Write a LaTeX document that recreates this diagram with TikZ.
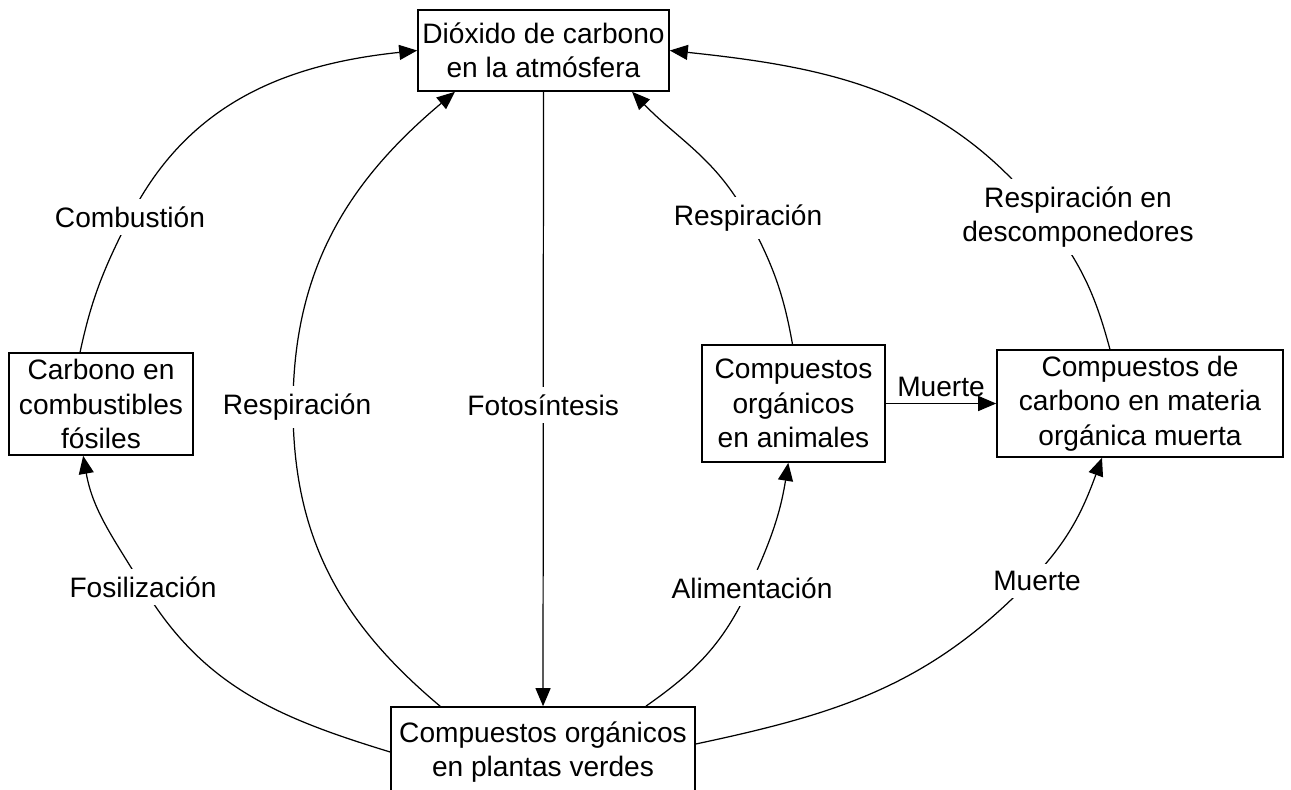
\documentclass[tikz,border=0pt]{standalone}
\usepackage{fontspec}
\setmainfont{Liberation Sans}
\usetikzlibrary{arrows.meta, positioning}

\begin{document}
\begin{tikzpicture}[x=0.2mm, y=0.2mm, line width=0.7pt,
        font=\fontsize{16}{19.5}\selectfont]
    % Block styles
    \tikzstyle{box} = [rectangle, draw, line width=0.9pt, align=center, inner sep=2pt]
    \tikzstyle{lbl} = [fill=white, inner sep=1.5mm, align=center]
    \tikzstyle{flow} = [-{Triangle[length=3.6mm, width=3mm]}]
    \clip (0,0) rectangle (1291,-789); % page size of the reference

    % Boxes
    \node[box, minimum width=50.2mm, minimum height=16.2mm] (atm) at (543.5,-50.5) {Dióxido de carbono\\en la atmósfera};
    \node[box, minimum width=60.8mm, minimum height=18mm] (plant) at (543,-752) {Compuestos orgánicos\\en plantas verdes};
    \node[box, minimum width=36.8mm, minimum height=20.4mm] (carb) at (101,-404) {Carbono en\\combustibles\\fósiles};
    \node[box, minimum width=36.6mm, minimum height=23.4mm] (anim) at (793.5,-403.5) {Compuestos\\orgánicos\\en animales};
    \node[box, minimum width=57.2mm, minimum height=21.4mm] (mat) at (1140,-403.5) {Compuestos de\\carbono en materia\\orgánica muerta};

    % Points where the arcs pass under their labels
    \coordinate (combC) at (130,-217);
    \coordinate (fosC) at (143,-587);
    \coordinate (respC) at (293,-407);
    \coordinate (aliC) at (749,-588);
    \coordinate (respaC) at (748,-218);
    \coordinate (descC) at (1045,-217);
    \coordinate (muerC) at (1030,-581);

    % Connections
    \draw[flow] (carb.112) to[out=78,in=-117] (combC) to[out=63,in=186] (atm.west);
    \draw[flow] (plant.west) to[out=163,in=-59] (fosC) to[out=121,in=-80] (carb.-109);
    \draw[flow] (plant.156) to[out=140,in=-90] (respC) to[out=90,in=220] (atm.-155);
    \draw[flow] (atm) -- node[lbl, pos=0.51] (fotoL) {Fotosíntesis} (plant);
    \draw[flow] (plant.24) to[out=35,in=-115] (aliC) to[out=65,in=-99] (anim.-95);
    \draw[flow] (anim.91) to[out=100,in=-62] (respaC) to[out=118,in=-46] (atm.-25);
    \draw[flow] (mat.119) to[out=105,in=-52] (descC) to[out=128,in=-6] (atm.east);
    \draw[flow] (plant.3) to[out=12,in=-134] (muerC) to[out=46,in=-110] (mat.-125);
    \draw[flow] (anim) -- node[above] (muerH) {Muerte} (mat);

    % Labels
    \node[lbl] (combL) at (combC) {Combustión};
    \node[lbl] (fosL) at (fosC) {Fosilización};
    \node[lbl] (respL) at ([xshift=0.8mm]respC) {Respiración};
    \node[lbl] (aliL) at ([xshift=0.6mm]aliC) {Alimentación};
    \node[lbl] (respaL) at (respaC) {Respiración};
    \node[lbl] (descL) at ([xshift=6.6mm]descC) {Respiración en\\descomponedores};
    \node[lbl] (muerL) at ([xshift=1.4mm]muerC) {Muerte};
\end{tikzpicture}
\end{document}
